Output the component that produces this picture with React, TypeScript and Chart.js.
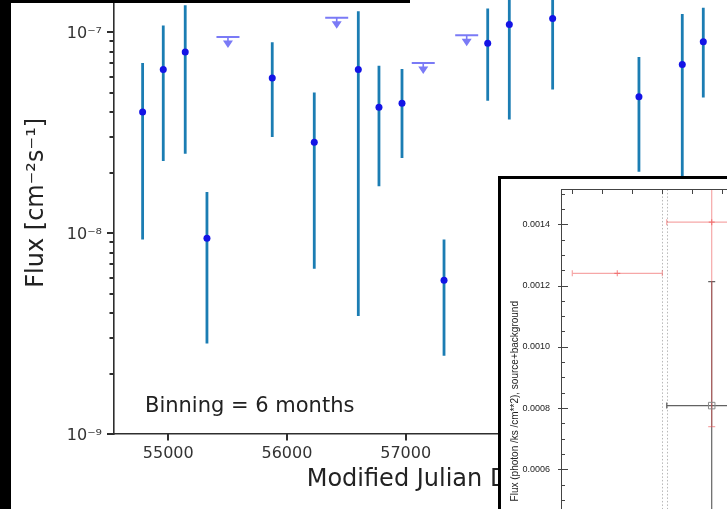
import React, { useEffect, useRef } from "react";
import { Chart, registerables } from "chart.js";

Chart.register(...registerables);

// ---------- Main light curve (6-month binning) ----------
const DET_MJD = [54784, 54958, 55143, 55326, 55876, 56230, 56601, 56775, 56969, 57323, 57691, 57873, 58238, 58965, 59330, 59507];
const DET_FLUX = [4.0e-8, 6.52e-8, 7.96e-8, 9.42e-9, 5.91e-8, 2.83e-8, 6.52e-8, 4.23e-8, 4.43e-8, 5.83e-9, 8.8e-8, 1.09e-7, 1.17e-7, 4.77e-8, 6.89e-8, 8.94e-8];
const DET_LO = [9.3e-9, 2.28e-8, 2.48e-8, 2.82e-9, 3.01e-8, 6.65e-9, 3.86e-9, 1.71e-8, 2.36e-8, 2.45e-9, 4.55e-8, 3.67e-8, 5.18e-8, 2.02e-8, 1.49e-8, 4.73e-8];
const DET_HI = [7.02e-8, 1.08e-7, 1.36e-7, 1.6e-8, 8.9e-8, 5.0e-8, 1.27e-7, 6.8e-8, 6.55e-8, 9.3e-9, 1.31e-7, 1.81e-7, 1.82e-7, 7.52e-8, 1.23e-7, 1.32e-7];

const UL_MJD = [55503, 56419, 57148, 57514];
const UL_FLUX = [9.46e-8, 1.18e-7, 7.02e-8, 9.64e-8];

const X_TICKS = [55000, 56000, 57000, 58000, 59000];
const Y_MAJOR = [1e-9, 1e-8, 1e-7];
const Y_LABELS = ["10\u207B\u2079", "10\u207B\u2078", "10\u207B\u2077"];
const Y_MAX = 2e-7;

// ---------- Inset (X-ray light curve) ----------
const INSET_X_TICKS = [10, 20, 30, 40, 50, 60, 70, 80];
const INSET_Y_LABELED = [0.0006, 0.0008, 0.001, 0.0012, 0.0014];
const INSET_Y_STEP = 0.00005;
const GAP_LINES = [40, 41.47];

const RED_X = [25, 56.47];
const RED_XLO = [10, 41.47];
const RED_XHI = [40, 71.47];
const RED_Y = [0.00124, 0.001407];
const RED_YLO = [0.00124, 0.000739];
const RED_YHI = [0.00124, 0.0016];

const BLK_X = [56.47];
const BLK_XLO = [41.47];
const BLK_XHI = [71.47];
const BLK_Y = [0.000808];
const BLK_YLO = [0.0004];
const BLK_YHI = [0.001213];

const MAIN_FONT = '"DejaVu Sans", sans-serif';
const INSET_FONT = '"Liberation Sans", Arial, sans-serif';
const ERR_COLOR = "#1b7db3";
const DOT_COLOR = "#1414e6";
const UL_COLOR = "#7a7af6";
const AXIS_COLOR = "#2e2e2e";

function mainYTickValues(): number[] {
  const out: number[] = [];
  for (const base of Y_MAJOR) {
    for (let k = 1; k <= 9; k++) {
      const v = k * base;
      if (v <= Y_MAX * 1.0001) out.push(v);
    }
  }
  return out;
}

function isMajorLog(v: number) {
  return Y_MAJOR.some((m) => Math.abs(Math.log10(m) - Math.log10(v)) < 1e-6);
}

const mainPlugin = {
  id: "mainDecor",
  beforeDatasetsDraw(chart: any) {
    const { ctx, chartArea, scales } = chart;
    const x = scales.x;
    const y = scales.y;
    ctx.save();
    ctx.beginPath();
    ctx.rect(chartArea.left, chartArea.top, chartArea.right - chartArea.left, chartArea.bottom - chartArea.top);
    ctx.clip();
    ctx.strokeStyle = ERR_COLOR;
    ctx.lineWidth = 2.8;
    for (let i = 0; i < DET_MJD.length; i++) {
      const px = x.getPixelForValue(DET_MJD[i]);
      ctx.beginPath();
      ctx.moveTo(px, y.getPixelForValue(DET_HI[i]));
      ctx.lineTo(px, y.getPixelForValue(DET_LO[i]));
      ctx.stroke();
    }
    ctx.strokeStyle = UL_COLOR;
    ctx.fillStyle = UL_COLOR;
    for (let i = 0; i < UL_MJD.length; i++) {
      const px = x.getPixelForValue(UL_MJD[i]);
      const py = y.getPixelForValue(UL_FLUX[i]);
      ctx.lineWidth = 2;
      ctx.beginPath();
      ctx.moveTo(px - 11.5, py);
      ctx.lineTo(px + 11.5, py);
      ctx.stroke();
      ctx.lineWidth = 1.6;
      ctx.beginPath();
      ctx.moveTo(px, py);
      ctx.lineTo(px, py + 5);
      ctx.stroke();
      ctx.beginPath();
      ctx.moveTo(px - 5, py + 3.5);
      ctx.lineTo(px + 5, py + 3.5);
      ctx.lineTo(px, py + 11);
      ctx.closePath();
      ctx.fill();
    }
    ctx.restore();
  },
  afterDraw(chart: any) {
    const ctx = chart.ctx;
    const area = chart.chartArea;
    const x = chart.scales.x;
    const y = chart.scales.y;
    ctx.save();
    ctx.fillStyle = AXIS_COLOR;
    const left = Math.round(area.left);
    const bottom = Math.round(area.bottom);
    const vals = mainYTickValues();
    for (let i = 0; i < vals.length; i++) {
      const v = vals[i];
      const py = Math.round(y.getPixelForValue(v));
      const len = isMajorLog(v) ? 7 : 4.5;
      ctx.fillRect(left - len, py - 1, len, 2);
    }
    for (let i = 0; i < X_TICKS.length; i++) {
      const px = Math.round(x.getPixelForValue(X_TICKS[i]));
      ctx.fillRect(px - 1, bottom, 2, 6.5);
    }
    ctx.fillStyle = "#222";
    ctx.font = `21px ${MAIN_FONT}`;
    ctx.textBaseline = "alphabetic";
    ctx.textAlign = "left";
    ctx.fillText("Binning = 6 months", area.left + 31, area.bottom - 22);
    ctx.restore();
  },
};

function drawHV(ctx: any, x: any, y: any, cx: number, cy: number, xlo: number, xhi: number, ylo: number, yhi: number) {
  const px = x.getPixelForValue(cx);
  const py = y.getPixelForValue(cy);
  const pxl = x.getPixelForValue(xlo);
  const pxh = x.getPixelForValue(xhi);
  const pyl = y.getPixelForValue(ylo);
  const pyh = y.getPixelForValue(yhi);
  ctx.beginPath();
  ctx.moveTo(pxl, py);
  ctx.lineTo(pxh, py);
  ctx.moveTo(pxl, py - 3);
  ctx.lineTo(pxl, py + 3);
  ctx.moveTo(pxh, py - 3);
  ctx.lineTo(pxh, py + 3);
  if (Math.abs(pyl - pyh) > 0.5) {
    ctx.moveTo(px, pyl);
    ctx.lineTo(px, pyh);
    ctx.moveTo(px - 3.5, pyl);
    ctx.lineTo(px + 3.5, pyl);
    ctx.moveTo(px - 3.5, pyh);
    ctx.lineTo(px + 3.5, pyh);
  }
  ctx.stroke();
}

function insetYTickValues(): number[] {
  const out: number[] = [];
  for (let i = 3; i <= 30; i++) out.push(i * INSET_Y_STEP);
  return out;
}

const insetPlugin = {
  id: "insetDecor",
  beforeDatasetsDraw(chart: any) {
    const { ctx, chartArea, scales } = chart;
    const x = scales.x;
    const y = scales.y;
    ctx.save();
    ctx.beginPath();
    ctx.rect(chartArea.left, chartArea.top, chartArea.right - chartArea.left, chartArea.bottom - chartArea.top);
    ctx.clip();
    ctx.strokeStyle = "#b8b8b8";
    ctx.lineWidth = 1;
    ctx.setLineDash([1.5, 2]);
    for (const g of GAP_LINES) {
      const px = Math.round(x.getPixelForValue(g)) + 0.5;
      ctx.beginPath();
      ctx.moveTo(px, chartArea.top);
      ctx.lineTo(px, chartArea.bottom);
      ctx.stroke();
    }
    ctx.setLineDash([]);
    ctx.lineWidth = 1.2;
    ctx.strokeStyle = "rgba(70,70,70,0.85)";
    for (let i = 0; i < BLK_X.length; i++) {
      drawHV(ctx, x, y, BLK_X[i], BLK_Y[i], BLK_XLO[i], BLK_XHI[i], BLK_YLO[i], BLK_YHI[i]);
    }
    ctx.strokeStyle = "rgba(238,80,80,0.5)";
    for (let i = 0; i < RED_X.length; i++) {
      drawHV(ctx, x, y, RED_X[i], RED_Y[i], RED_XLO[i], RED_XHI[i], RED_YLO[i], RED_YHI[i]);
    }
    ctx.restore();
  },
  afterDraw(chart: any) {
    const ctx = chart.ctx;
    const area = chart.chartArea;
    const x = chart.scales.x;
    const y = chart.scales.y;
    ctx.save();
    ctx.fillStyle = "#444";
    const top = Math.round(area.top);
    const left = Math.round(area.left);
    ctx.fillRect(left, top, area.right - left, 1);
    for (let i = 0; i < INSET_X_TICKS.length; i++) {
      const px = Math.round(x.getPixelForValue(INSET_X_TICKS[i]));
      ctx.fillRect(px, top, 1, 5);
    }
    const vals = insetYTickValues();
    for (let i = 0; i < vals.length; i++) {
      const v = vals[i];
      const py = Math.round(y.getPixelForValue(v));
      const major = Math.round(v / INSET_Y_STEP) % 4 === 0;
      if (major) ctx.fillRect(left - 3, py, 10, 1);
      else ctx.fillRect(left, py, 4, 1);
    }
    ctx.restore();
  },
};

export default function App() {
  const mainRef = useRef<HTMLCanvasElement>(null);
  const insetRef = useRef<HTMLCanvasElement>(null);

  useEffect(() => {
    const main = new Chart(mainRef.current as HTMLCanvasElement, {
      type: "scatter",
      data: {
        datasets: [
          {
            label: "detections",
            data: DET_MJD.map((m, i) => ({ x: m, y: DET_FLUX[i] })),
            backgroundColor: DOT_COLOR,
            borderColor: DOT_COLOR,
            pointRadius: 3.5,
            borderWidth: 0,
          },
          {
            label: "upper limits",
            data: UL_MJD.map((m, i) => ({ x: m, y: UL_FLUX[i] })),
            backgroundColor: UL_COLOR,
            pointRadius: 0,
          },
        ],
      },
      options: {
        animation: false,
        responsive: false,
        events: [],
        layout: { padding: { top: 21.6, right: 15, left: 0, bottom: 0 } },
        plugins: { legend: { display: false }, tooltip: { enabled: false } },
        scales: {
          x: {
            type: "linear",
            min: 54543,
            max: 59732,
            afterFit: (s: any) => {
              s.height = 75;
            },
            afterBuildTicks: (s: any) => {
              s.ticks = X_TICKS.map((v) => ({ value: v }));
            },
            grid: { display: false, drawTicks: false, tickLength: 0 },
            border: { display: true, color: AXIS_COLOR, width: 1.6 },
            ticks: {
              autoSkip: false,
              maxRotation: 0,
              padding: 10,
              color: "#333",
              font: { family: MAIN_FONT, size: 16 },
              callback: (v: any) => String(v),
            },
            title: {
              display: true,
              text: "Modified Julian Day",
              color: "#222",
              font: { family: MAIN_FONT, size: 24 },
              padding: { top: 0, bottom: 14.6 },
            },
          },
          y: {
            type: "logarithmic",
            min: 1e-9,
            max: Y_MAX,
            afterFit: (s: any) => {
              s.width = 114;
            },
            afterBuildTicks: (s: any) => {
              s.ticks = mainYTickValues().map((v) => ({ value: v }));
            },
            grid: { display: false, drawTicks: false, tickLength: 0 },
            border: { display: true, color: AXIS_COLOR, width: 1.6 },
            ticks: {
              autoSkip: false,
              padding: 12,
              labelOffset: 2,
              color: "#333",
              font: { family: MAIN_FONT, size: 16 },
              callback: (v: any) => {
                const idx = Y_MAJOR.findIndex((m) => Math.abs(Math.log10(m) - Math.log10(Number(v))) < 1e-6);
                return idx >= 0 ? Y_LABELS[idx] : "";
              },
            },
            title: {
              display: true,
              text: "Flux [cm\u207B\u00B2s\u207B\u00B9]",
              color: "#222",
              font: { family: MAIN_FONT, size: 24 },
              padding: { top: 22, bottom: 0 },
            },
          },
        },
      },
      plugins: [mainPlugin],
    } as any);

    const inset = new Chart(insetRef.current as HTMLCanvasElement, {
      type: "scatter",
      data: {
        datasets: [
          {
            label: "background",
            data: RED_X.map((v, i) => ({ x: v, y: RED_Y[i] })),
            pointStyle: "cross",
            pointRadius: 3,
            borderColor: "rgba(238,80,80,0.6)",
            borderWidth: 1.2,
          },
          {
            label: "source+background",
            data: BLK_X.map((v, i) => ({ x: v, y: BLK_Y[i] })),
            pointStyle: "rect",
            pointRadius: 4.6,
            backgroundColor: "rgba(0,0,0,0)",
            borderColor: "#8a8a8a",
            borderWidth: 1,
          },
        ],
      },
      options: {
        animation: false,
        responsive: false,
        events: [],
        layout: { padding: { top: 16.4, right: 10, left: 0, bottom: 0 } },
        plugins: { legend: { display: false }, tooltip: { enabled: false } },
        scales: {
          x: {
            type: "linear",
            min: 6.233,
            max: 82.9,
            afterFit: (s: any) => {
              s.height = 66;
            },
            afterBuildTicks: (s: any) => {
              s.ticks = INSET_X_TICKS.map((v) => ({ value: v }));
            },
            grid: { display: false, drawTicks: false, tickLength: 0 },
            border: { display: false },
            ticks: { display: false },
          },
          y: {
            type: "linear",
            min: 0.0001307,
            max: 0.001514,
            afterFit: (s: any) => {
              s.width = 60;
            },
            afterBuildTicks: (s: any) => {
              s.ticks = insetYTickValues().map((v) => ({ value: v }));
            },
            grid: { display: false, drawTicks: false, tickLength: 0 },
            border: { display: true, color: "#444", width: 1 },
            ticks: {
              autoSkip: false,
              padding: 11,
              color: "#222",
              font: { family: INSET_FONT, size: 9 },
              callback: (v: any) => {
                const n = Math.round(Number(v) / INSET_Y_STEP);
                if (n % 4 !== 0) return "";
                const val = n * INSET_Y_STEP;
                const hit = INSET_Y_LABELED.find((m) => Math.abs(m - val) < 1e-9);
                return hit !== undefined ? hit.toFixed(4) : val.toFixed(4);
              },
            },
            title: {
              display: true,
              text: "Flux (photon /ks /cm**2), source+background",
              color: "#222",
              font: { family: INSET_FONT, size: 10 },
              padding: { top: 8, bottom: 0 },
            },
          },
        },
      },
      plugins: [insetPlugin],
    } as any);

    return () => {
      main.destroy();
      inset.destroy();
    };
  }, []);

  return (
    <div
      style={{
        position: "fixed",
        left: 0,
        top: 0,
        width: 727,
        height: 509,
        overflow: "hidden",
        background: "#fff",
      }}
    >
      <div style={{ position: "absolute", left: 0, top: -50, width: 745, height: 559 }}>
        <canvas ref={mainRef} width={745} height={559} style={{ display: "block", width: 745, height: 559 }} />
      </div>
      <div style={{ position: "absolute", left: 0, top: 0, width: 11, height: 509, background: "#000" }} />
      <div style={{ position: "absolute", left: 0, top: 0, width: 410, height: 3, background: "#000" }} />
      <div
        style={{
          position: "absolute",
          left: 498,
          top: 176,
          width: 303,
          height: 503,
          background: "#fff",
          borderTop: "3px solid #000",
          borderLeft: "3px solid #000",
          boxSizing: "border-box",
          overflow: "hidden",
        }}
      >
        <canvas
          ref={insetRef}
          width={300}
          height={506}
          style={{ position: "absolute", left: 0, top: -6, display: "block", width: 300, height: 506 }}
        />
      </div>
    </div>
  );
}
